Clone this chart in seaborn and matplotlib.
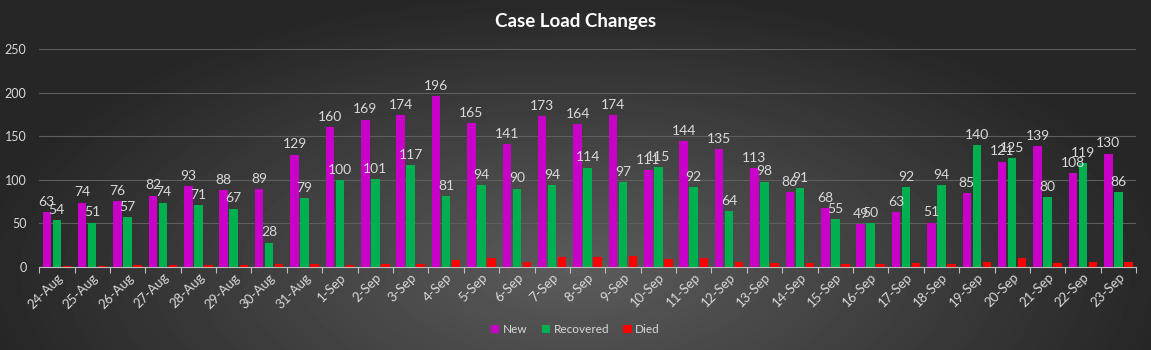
import numpy as np
import pandas as pd
import seaborn as sns
import matplotlib.pyplot as plt
from matplotlib.ticker import FixedLocator

dates = ["24-Aug", "25-Aug", "26-Aug", "27-Aug", "28-Aug", "29-Aug", "30-Aug", "31-Aug",
         "1-Sep", "2-Sep", "3-Sep", "4-Sep", "5-Sep", "6-Sep", "7-Sep", "8-Sep", "9-Sep",
         "10-Sep", "11-Sep", "12-Sep", "13-Sep", "14-Sep", "15-Sep", "16-Sep", "17-Sep",
         "18-Sep", "19-Sep", "20-Sep", "21-Sep", "22-Sep", "23-Sep"]
new = [63, 74, 76, 82, 93, 88, 89, 129, 160, 169, 174, 196, 165, 141, 173, 164, 174,
       111, 144, 135, 113, 86, 68, 49, 63, 51, 85, 121, 139, 108, 130]
recovered = [54, 51, 57, 74, 71, 67, 28, 79, 100, 101, 117, 81, 94, 90, 94, 114, 97,
             115, 92, 64, 98, 91, 55, 50, 92, 94, 140, 125, 80, 119, 86]
died = [1, 1, 2, 2, 2, 2, 3, 3, 2, 4, 4, 8, 10, 6, 11, 12, 13,
        9, 10, 6, 5, 5, 4, 4, 5, 4, 6, 10, 5, 6, 6]

series = ["New", "Recovered", "Died"]
colors = ["#C800C8", "#00B050", "#FF0000"]

df = pd.DataFrame({"date": dates, "New": new, "Recovered": recovered, "Died": died})
long_df = df.melt(id_vars="date", var_name="series", value_name="count")

sns.set_style("dark")
plt.rcParams["font.family"] = ["Lato", "DejaVu Sans"]

fig = plt.figure(figsize=(11.51, 3.5), dpi=100)

# dark radial gradient background
bg = fig.add_axes([0, 0, 1, 1], zorder=0)
yy, xx = np.mgrid[0:350, 0:1151]
r = np.sqrt(((xx - 575) / 680.0) ** 2 + ((yy - 270) / 320.0) ** 2)
shade = np.clip(0.36 - 0.24 * r, 0.15, 0.36)
bg.imshow(shade, cmap="gray", vmin=0, vmax=1, aspect="auto", interpolation="bilinear")
bg.axis("off")

ax = fig.add_axes([0.034, 0.237, 0.953, 0.623], zorder=1)
ax.set_facecolor("none")

sns.barplot(data=long_df, x="date", y="count", hue="series", hue_order=series,
            palette=colors, width=0.85, gap=0.15, saturation=1, ax=ax,
            legend=True, zorder=3, edgecolor="none", linewidth=0)

for cont in ax.containers[:2]:
    ax.bar_label(cont, padding=3, fontsize=10, color="#D9D9D9")

ax.set_ylim(0, 250)
ax.set_xlim(-0.5, len(dates) - 0.5)
ax.set_yticks(range(0, 251, 50))
ax.yaxis.grid(True, color="#5E5E5E", lw=0.8, zorder=0)
ax.xaxis.grid(False)
ax.set_xlabel("")
ax.set_ylabel("")

for s in ["top", "right", "left"]:
    ax.spines[s].set_visible(False)
ax.spines["bottom"].set_color("#BFBFBF")
ax.spines["bottom"].set_linewidth(0.8)

ax.tick_params(axis="y", length=0, pad=9, labelcolor="#D9D9D9", labelsize=9)
ax.tick_params(axis="x", which="major", length=0, pad=3, labelcolor="#D9D9D9", labelsize=9.5)
ax.xaxis.set_minor_locator(FixedLocator(np.arange(-0.5, len(dates), 1)))
ax.tick_params(axis="x", which="minor", length=4, width=0.8, color="#BFBFBF", bottom=True)
plt.setp(ax.get_xticklabels(), rotation=45, ha="right", rotation_mode="anchor")

handles, labels = ax.get_legend_handles_labels()
ax.legend_.remove()
fig.legend(handles, labels, loc="center", bbox_to_anchor=(0.5, 0.058), ncol=3,
           frameon=False, fontsize=8.5, labelcolor="#D9D9D9", handlelength=0.7,
           handleheight=0.7, handletextpad=0.3, columnspacing=1.2)

fig.text(0.5, 0.94, "Case Load Changes", ha="center", va="center",
         color="white", fontsize=13.5, fontweight="bold")

fig.savefig("out.png", dpi=100)
